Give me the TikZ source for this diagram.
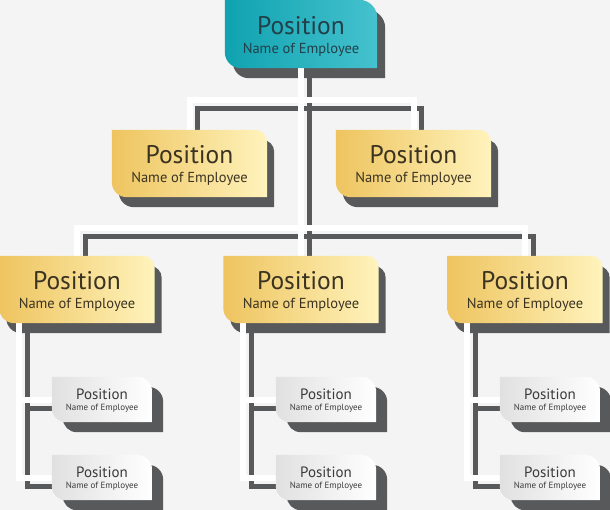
\documentclass[tikz,border=0pt]{standalone}
\usepackage{fontspec}
\setmainfont{PT Sans}
\usetikzlibrary{calc}
\definecolor{pagebg}{HTML}{F4F4F5}
\definecolor{shadowgray}{HTML}{58595B}
\definecolor{tealL}{HTML}{10A2B0}
\definecolor{tealR}{HTML}{45C2CE}
\definecolor{goldL}{HTML}{EEC45F}
\definecolor{goldR}{HTML}{FFF3BC}
\definecolor{tealtext}{HTML}{21404A}
\definecolor{goldtext}{HTML}{3B3322}
\definecolor{subtext}{HTML}{3A3A3A}

\pgfdeclarelayer{page}
\pgfdeclarelayer{linkshade}
\pgfdeclarelayer{cardshade}
\pgfdeclarelayer{links}
\pgfdeclarelayer{cards}
\pgfsetlayers{page,linkshade,cardshade,links,cards,main}

\newcommand\namebig{\fontsize{14.5}{15}\selectfont}
\newcommand\namesmall{\fontsize{9}{10}\selectfont}
% card outline: square top-left/bottom-right, rounded top-right/bottom-left
\newcommand\cardpath[3]{(#1.north west) -- ([xshift=-#2]#1.north east) arc[start angle=90,end angle=0,radius=#2] -- (#1.south east) -- ([xshift=#3]#1.south west) arc[start angle=270,end angle=180,radius=#3] -- cycle}

\tikzset{
  card/.style={inner sep=0pt, align=center, text=goldtext},
  head card/.style={card, minimum width=152pt, minimum height=68pt, text height=41pt, text=tealtext, font=\fontsize{25.5}{25}\selectfont},
  mid card/.style={card, minimum width=155pt, minimum height=67pt, text height=41pt, font=\fontsize{25.5}{25}\selectfont},
  sub card/.style={card, minimum width=100pt, minimum height=45pt, text height=23pt, text=subtext, font=\fontsize{15}{15}\selectfont},
  teal fill/.style={left color=tealL, right color=tealR},
  gold fill/.style={left color=goldL, right color=goldR},
  sub fill/.style={left color=black!12, right color=white},
  link/.style={draw=white, line width=6pt},
  link shade/.style={draw=shadowgray, line width=5pt, transform canvas={shift={(8pt,-9pt)}}},
}

\begin{document}
\begin{tikzpicture}[x=1pt, y=1pt]
  \begin{pgfonlayer}{page}
    \fill[pagebg] (0,0) rectangle (610,-510);
  \end{pgfonlayer}
  \useasboundingbox (0,0) rectangle (610,-510);

  % top
  \node[head card] (T) at (301,-34) {Position\\[-6pt]{\namebig Name of Employee}};
  % second row
  \node[mid card] (A) at (189.5,-163.5) {Position\\[-6pt]{\namebig Name of Employee}};
  \node[mid card] (B) at (413.5,-163.5) {Position\\[-6pt]{\namebig Name of Employee}};
  % third row
  \node[mid card] (C) at (77,-289.5) {Position\\[-6pt]{\namebig Name of Employee}};
  \node[mid card] (D) at (301,-289.5) {Position\\[-6pt]{\namebig Name of Employee}};
  \node[mid card] (E) at (525,-289.5) {Position\\[-6pt]{\namebig Name of Employee}};
  % small cards
  \foreach \c/\x in {C/102,D/326,E/550}{
    \node[sub card] (\c1) at (\x,-399.5) {Position\\[-4pt]{\namesmall Name of Employee}};
    \node[sub card] (\c2) at (\x,-477.5) {Position\\[-4pt]{\namesmall Name of Employee}};
  }

  \coordinate (bar1) at (0,-100);
  \coordinate (bar2) at (0,-228);

  % connectors, white with a dark offset copy
  \foreach \lay/\sty in {linkshade/link shade, links/link}{
    \begin{pgfonlayer}{\lay}
      \draw[\sty] (T) -- (D);
      \draw[\sty] (A) -- (A |- bar1) -- (B |- bar1) -- (B);
      \draw[\sty] (C) -- (C |- bar2) -- (E |- bar2) -- (E);
      \foreach \c in {C,D,E}{
        \draw[\sty] ([xshift=20pt]\c.west) -- ([xshift=20pt]\c.west |- \c2.west) -- (\c2.west);
        \draw[\sty] ([xshift=20pt]\c.west |- \c1.west) -- (\c1.west);
      }
    \end{pgfonlayer}
  }

  % card bodies and shadows
  \foreach \n/\R/\r/\dx/\fillsty in {T/18pt/16pt/8pt/teal fill,
      A/12pt/15pt/7pt/gold fill, B/12pt/15pt/7pt/gold fill,
      C/12pt/15pt/7pt/gold fill, D/12pt/15pt/7pt/gold fill, E/12pt/15pt/7pt/gold fill,
      C1/15pt/14pt/11pt/sub fill, C2/15pt/14pt/11pt/sub fill,
      D1/15pt/14pt/11pt/sub fill, D2/15pt/14pt/11pt/sub fill,
      E1/15pt/14pt/11pt/sub fill, E2/15pt/14pt/11pt/sub fill}{
    \begin{pgfonlayer}{cardshade}
      \fill[shadowgray, transform canvas={shift={(\dx,-10pt)}}] \cardpath{\n}{\R}{\r};
    \end{pgfonlayer}
    \begin{pgfonlayer}{cards}
      \path[\fillsty] \cardpath{\n}{\R}{\r};
    \end{pgfonlayer}
  }
\end{tikzpicture}
\end{document}
